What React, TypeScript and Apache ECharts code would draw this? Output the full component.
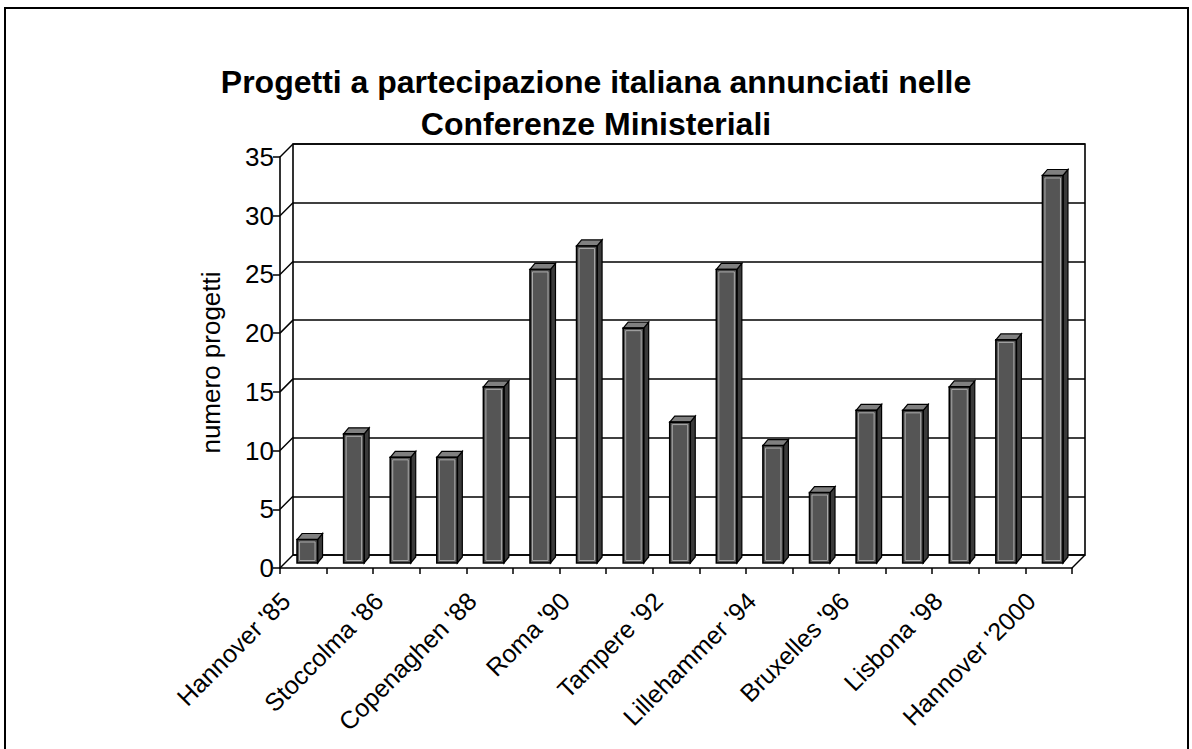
import React, { useEffect, useRef } from "react";
import * as echarts from "echarts";

const categories = [
  "Hannover '85", "Londra '86", "Stoccolma '86", "Madrid '87", "Copenaghen '88",
  "Vienna '89", "Roma '90", "L'Aia '91", "Tampere '92", "Parigi '93",
  "Lillehammer '94", "Interlaken '95", "Bruxelles '96", "Londra '97",
  "Lisbona '98", "Istanbul '99", "Hannover '2000",
];
const progetti = [2, 11, 9, 9, 15, 25, 27, 20, 12, 25, 10, 6, 13, 13, 15, 19, 33];
const yTicks = [0, 5, 10, 15, 20, 25, 30, 35];
const titleText = "Progetti a partecipazione italiana annunciati nelle\nConferenze Ministeriali";
const yName = "numero progetti";

const FONT = "'Liberation Sans', Arial, sans-serif";
const DEPTH = 13;

export default function App() {
  const ref = useRef<HTMLDivElement>(null);
  useEffect(() => {
    if (!ref.current) return;
    const chart = echarts.init(ref.current, null, { renderer: "svg" });
    const option: any = {
      animation: false,
      backgroundColor: "#fff",
      title: {
        text: titleText,
        left: "center",
        top: 56,
        textStyle: { fontFamily: FONT, fontSize: 32, fontWeight: "bold", color: "#000", lineHeight: 42 },
      },
      grid: [
        { left: 280, top: 157, width: 792, height: 411, outerBoundsMode: "none", containLabel: false },
        {
          left: 280 + DEPTH, top: 157 - DEPTH, width: 792, height: 411, outerBoundsMode: "none",
          containLabel: false, show: true, borderColor: "#000", borderWidth: 1.6, backgroundColor: "transparent",
        },
      ],
      xAxis: [
        {
          type: "category", gridIndex: 0, data: categories,
          axisLine: { show: true, lineStyle: { color: "#000", width: 1.6 } },
          axisTick: { show: true, interval: 0, length: 6, lineStyle: { color: "#000", width: 1.5 } },
          axisLabel: {
            interval: 1, rotate: 45, fontFamily: FONT, fontSize: 25, color: "#000",
            margin: 11, padding: [0, 25, 0, 0],
          },
          splitLine: { show: false },
        },
        { type: "category", gridIndex: 1, data: categories, show: false },
      ],
      yAxis: [
        {
          type: "value", gridIndex: 0, min: 0, max: 35, interval: 5,
          axisLine: { show: true, lineStyle: { color: "#000", width: 1.6 } },
          axisTick: { show: true, length: 7, lineStyle: { color: "#000", width: 1.5 } },
          axisLabel: { fontFamily: FONT, fontSize: 26, color: "#000", margin: 6 },
          splitLine: { show: false },
          name: yName, nameLocation: "middle", nameGap: 56, nameRotate: 90,
          nameTextStyle: { fontFamily: FONT, fontSize: 26, color: "#000" },
        },
        {
          type: "value", gridIndex: 1, min: 0, max: 35, interval: 5,
          axisLine: { show: false }, axisTick: { show: false }, axisLabel: { show: false },
          splitLine: { show: true, lineStyle: { color: "#000", width: 1.6 } },
        },
      ],
      series: [
        {
          type: "custom",
          name: "pareti",
          xAxisIndex: 0, yAxisIndex: 0,
          data: yTicks.map((v) => [0, v]),
          silent: true,
          renderItem: (params: any, api: any) => {
            const v = api.value(1);
            const cs = params.coordSys;
            const y = api.coord([0, v])[1];
            const children: any[] = [
              {
                type: "line",
                shape: { x1: cs.x, y1: y, x2: cs.x + DEPTH, y2: y - DEPTH },
                style: { stroke: "#000", lineWidth: 1.5 },
              },
            ];
            if (v === 0) {
              children.push({
                type: "line",
                shape: { x1: cs.x + cs.width, y1: y, x2: cs.x + cs.width + DEPTH, y2: y - DEPTH },
                style: { stroke: "#000", lineWidth: 1.5 },
              });
            }
            return { type: "group", children };
          },
        },
        {
          type: "custom",
          name: "progetti",
          xAxisIndex: 0, yAxisIndex: 0,
          data: progetti.map((v, i) => [i, v]),
          renderItem: (params: any, api: any) => {
            const i = api.value(0);
            const v = api.value(1);
            const top = api.coord([i, v]);
            const base = api.coord([i, 0]);
            const cw = api.size([1, 0])[0];
            const w = cw * 0.44;
            const ox = 4, oy = -5, dx = 5, dy = -6;
            const x0 = top[0] - w / 2 + ox;
            const x1 = x0 + w;
            const yT = top[1] + oy;
            const yB = base[1] + oy;
            return {
              type: "group",
              children: [
                {
                  type: "polygon",
                  shape: { points: [[x1, yT], [x1 + dx, yT + dy], [x1 + dx, yB + dy], [x1, yB]] },
                  style: { fill: "#3a3a3a", stroke: "#000", lineWidth: 1.2 },
                },
                {
                  type: "polygon",
                  shape: { points: [[x0, yT], [x0 + dx, yT + dy], [x1 + dx, yT + dy], [x1, yT]] },
                  style: { fill: "#808080", stroke: "#000", lineWidth: 1.2 },
                },
                {
                  type: "rect",
                  shape: { x: x0, y: yT, width: w, height: yB - yT },
                  style: { fill: "#555", stroke: "#000", lineWidth: 1.6 },
                },
                {
                  type: "rect",
                  shape: { x: x0 + 2.5, y: yT + 2.5, width: w - 5, height: Math.max(0, yB - yT - 5) },
                  style: { fill: "none", stroke: "#aaa", lineWidth: 1 },
                },
              ],
            };
          },
        },
      ],
    };
    chart.setOption(option);
    return () => chart.dispose();
  }, []);
  return (
    <>
      <div
        ref={ref}
        style={{ position: "absolute", left: 0, top: 0, width: 1192, height: 749 }}
      />
      <div
        style={{
          position: "absolute", left: 4, top: 7, width: 1181, height: 740,
          borderTop: "2px solid #000", borderLeft: "2px solid #000", borderRight: "2px solid #000",
          pointerEvents: "none",
        }}
      />
    </>
  );
}
